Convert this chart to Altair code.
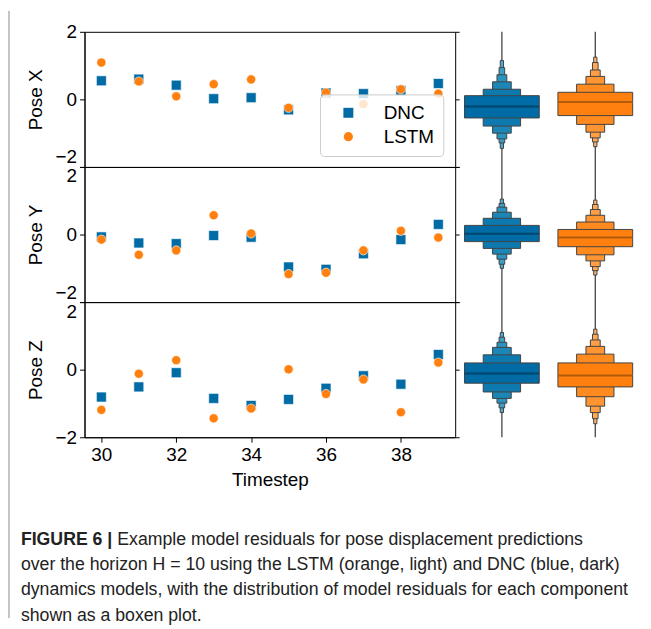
import altair as alt
import pandas as pd

# ---------------- data ----------------
timesteps = [30, 31, 32, 33, 34, 35, 36, 37, 38, 39]
poses = ["Pose X", "Pose Y", "Pose Z"]
models = ["DNC", "LSTM"]

dnc_x = [0.55, 0.60, 0.42, 0.02, 0.05, -0.31, 0.19, 0.17, 0.26, 0.47]
lstm_x = [1.09, 0.53, 0.09, 0.45, 0.59, -0.25, 0.20, -0.14, 0.30, 0.17]
dnc_y = [-0.07, -0.25, -0.27, -0.03, -0.08, -0.96, -1.03, -0.57, -0.15, 0.30]
lstm_y = [-0.15, -0.60, -0.47, 0.57, 0.03, -1.17, -1.13, -0.47, 0.11, -0.09]
dnc_z = [-0.81, -0.51, -0.09, -0.85, -1.06, -0.88, -0.55, -0.18, -0.43, 0.45]
lstm_z = [-1.19, -0.12, 0.28, -1.44, -1.15, 0.01, -0.72, -0.29, -1.26, 0.21]

# boxen plot levels (innermost box first): upper and lower edges, medians
dnc_x_hi = [0.11, 0.30, 0.52, 0.73, 0.94, 1.15]
dnc_x_lo = [-0.55, -0.79, -1.00, -1.17, -1.29, -1.45]
lstm_x_hi = [0.21, 0.45, 0.68, 0.87, 1.09, 1.25]
lstm_x_lo = [-0.48, -0.74, -0.97, -1.14, -1.26, -1.40]
dnc_y_hi = [0.27, 0.48, 0.66, 0.81, 0.92, 1.05]
dnc_y_lo = [-0.21, -0.41, -0.58, -0.73, -0.88, -1.00]
lstm_y_hi = [0.15, 0.37, 0.57, 0.74, 0.89, 1.02]
lstm_y_lo = [-0.36, -0.60, -0.78, -0.95, -1.07, -1.20]
dnc_z_hi = [0.20, 0.44, 0.66, 0.81, 0.96, 1.10]
dnc_z_lo = [-0.40, -0.66, -0.85, -0.99, -1.13, -1.27]
lstm_z_hi = [0.20, 0.46, 0.69, 0.88, 1.05, 1.20]
lstm_z_lo = [-0.51, -0.80, -1.08, -1.27, -1.45, -1.60]
dnc_medians = [-0.21, 0.02, -0.11]
lstm_medians = [-0.08, -0.09, -0.17]

caption_bold = "FIGURE 6 |"
caption_lines = [
    "Example model residuals for pose displacement predictions",
    "over the horizon H = 10 using the LSTM (orange, light) and DNC (blue, dark)",
    "dynamics models, with the distribution of model residuals for each component",
    "shown as a boxen plot.",
]

# ---------------- style ----------------
BLUE = "#006BA4"
ORANGE = "#FF800E"
level_widths = [0.8, 0.4, 0.2, 0.105, 0.06, 0.035]
dnc_fills = ["#006ba4", "#0d79ae", "#1c86b7", "#2b93c0", "#3aa0c9", "#49acd1"]
lstm_fills = ["#ff800e", "#ff8a20", "#ff9432", "#ff9e45", "#ffa857", "#ffb26a"]
median_colors = ["#00456b", "#b35a0a"]
FONT = "Liberation Sans"
CAP_SIZE = 17.8
SW, BW, PH = 373, 188, 136

scatter_series = [(dnc_x, lstm_x), (dnc_y, lstm_y), (dnc_z, lstm_z)]
boxen_series = [
    ((dnc_x_lo, dnc_x_hi), (lstm_x_lo, lstm_x_hi)),
    ((dnc_y_lo, dnc_y_hi), (lstm_y_lo, lstm_y_hi)),
    ((dnc_z_lo, dnc_z_hi), (lstm_z_lo, lstm_z_hi)),
]

legend = alt.Legend(
    title=None, orient="none", legendX=237, legendY=63,
    fillColor="rgba(255,255,255,0.8)", strokeColor="#cccccc", cornerRadius=4,
    padding=9, labelFontSize=19, labelFont=FONT, labelColor="black",
    symbolSize=100, rowPadding=4, labelOffset=26, symbolOffset=10,
    symbolStrokeWidth=0,
)

xscale = alt.Scale(domain=[29.55, 39.45], nice=False, zero=False)
yscale = alt.Scale(domain=[-2, 2], nice=False, zero=False)
bxscale = alt.Scale(domain=[-0.5, 1.5], nice=False, zero=False)

label_baselines = [
    {"condition": {"test": "datum.value < -1", "value": "bottom"}, "value": "middle"},
    {"condition": [{"test": "datum.value < -1", "value": "bottom"},
                   {"test": "datum.value > 1", "value": "top"}], "value": "middle"},
    {"condition": {"test": "datum.value > 1", "value": "top"}, "value": "middle"},
]


def scatter(i):
    d, l = scatter_series[i]
    df = pd.DataFrame({
        "Timestep": timesteps * 2,
        "value": d + l,
        "Model": ["DNC"] * len(d) + ["LSTM"] * len(l),
    })
    last = i == 2
    xaxis = alt.Axis(values=[30, 32, 34, 36, 38], title="Timestep", tickSize=5,
                     labelPadding=3, titlePadding=7, format="d") if last else None
    xenc = alt.X("Timestep:Q", scale=xscale, axis=xaxis)
    base = alt.Chart(df)
    pts = base.mark_point(filled=True, opacity=1, stroke="white", strokeWidth=0.6).encode(
        x=xenc,
        y=alt.Y("value:Q", scale=yscale,
                axis=alt.Axis(values=[-2, 0, 2], title=poses[i], labelBaseline=label_baselines[i],
                              tickSize=5, labelPadding=3, titlePadding=10)),
        color=alt.Color("Model:N", scale=alt.Scale(domain=models, range=[BLUE, ORANGE]), legend=legend),
        shape=alt.Shape("Model:N", scale=alt.Scale(domain=models, range=["square", "circle"]), legend=legend),
        size=alt.Size("Model:N", scale=alt.Scale(domain=models, range=[100, 85]), legend=None),
    )
    right = base.mark_point(opacity=0).encode(
        x=xenc,
        y=alt.Y("value:Q", scale=yscale,
                axis=alt.Axis(orient="right", values=[-2, 0, 2], labels=False, title=None,
                              tickSize=4, domain=False)),
    )
    layers = [right, pts]
    if last:
        cap = pd.DataFrame({"line": list(range(len(caption_lines))), "text": caption_lines})
        capbase = alt.Chart(cap).transform_calculate(ypx="239 + 25.6 * datum.line")
        cfont = dict(font=FONT, fontSize=CAP_SIZE, align="left",
                     baseline="middle", color="#222222")
        rest = capbase.transform_filter("datum.line > 0").mark_text(**cfont).encode(
            x=alt.value(-64), y=alt.Y("ypx:Q", scale=None, axis=None), text="text:N")
        first = capbase.transform_filter("datum.line == 0").mark_text(**cfont).encode(
            x=alt.value(33), y=alt.Y("ypx:Q", scale=None, axis=None), text="text:N")
        bold = alt.Chart(pd.DataFrame({"line": [0], "text": [caption_bold]})).transform_calculate(
            ypx="239 + 25.6 * datum.line").mark_text(fontWeight="bold", **cfont).encode(
            x=alt.value(-64), y=alt.Y("ypx:Q", scale=None, axis=None), text="text:N")
        border = alt.Chart(pd.DataFrame({"a": [0]})).mark_rule(color="#8c8c8c", strokeWidth=1).encode(
            x=alt.value(-76), y=alt.value(-293), y2=alt.value(318))
        layers += [rest, first, bold, border]
    return alt.layer(*layers).resolve_scale(y="independent").properties(width=SW, height=PH)


def boxen(i):
    rows = []
    for m, (lo, hi) in enumerate(boxen_series[i]):
        fills = dnc_fills if m == 0 else lstm_fills
        for k in range(len(lo)):
            rows.append({"Model": models[m], "idx": m, "level": k, "lo": lo[k], "hi": hi[k],
                         "w": level_widths[k], "fill": fills[k]})
    df = pd.DataFrame(rows).sort_values(["level", "idx"], ascending=[False, True])
    last = i == 2
    xaxis = alt.Axis(values=[0, 1], labelExpr=f"{models}[datum.value]", title="Model",
                     ticks=False, domain=False, labelPadding=8, titlePadding=7) if last else None
    rects = alt.Chart(df).transform_calculate(
        x1="datum.idx - datum.w / 2", x2="datum.idx + datum.w / 2"
    ).mark_rect(stroke="#444444", strokeWidth=1).encode(
        x=alt.X("x1:Q", scale=bxscale, axis=xaxis),
        x2="x2:Q",
        y=alt.Y("lo:Q", scale=yscale, axis=None),
        y2="hi:Q",
        fill=alt.Fill("fill:N", scale=None),
    )
    spikes = alt.Chart(pd.DataFrame({"idx": [0, 1]})).transform_calculate(
        top="2", bot="-2").mark_rule(color="#444444", strokeWidth=1.3).encode(
        x=alt.X("idx:Q", scale=bxscale, axis=None),
        y=alt.Y("bot:Q", scale=yscale, axis=None), y2="top:Q")
    med = pd.DataFrame({"idx": [0, 1], "median": [dnc_medians[i], lstm_medians[i]],
                        "c": median_colors})
    medians = alt.Chart(med).transform_calculate(
        a="datum.idx - 0.4", b="datum.idx + 0.4").mark_rule(strokeWidth=2).encode(
        x=alt.X("a:Q", scale=bxscale, axis=None), x2="b:Q",
        y=alt.Y("median:Q", scale=yscale, axis=None),
        color=alt.Color("c:N", scale=None))
    return alt.layer(spikes, rects, medians).properties(
        width=BW, height=PH, view=alt.ViewBackground(stroke="transparent"))


cells = []
for i in range(3):
    cells += [scatter(i), boxen(i)]

chart = alt.concat(*cells, columns=2, spacing=0, bounds="flush").properties(
    padding=0
).configure_view(stroke="black", strokeWidth=1).configure_axis(
    labelFont=FONT, titleFont=FONT, labelFontSize=19, titleFontSize=19,
    labelColor="black", titleColor="black", domainColor="black", tickColor="black",
    titleFontWeight="normal", grid=False, domainWidth=1, tickWidth=1,
)

chart.save("out.html", embed_options={"renderer": "svg", "actions": False})
